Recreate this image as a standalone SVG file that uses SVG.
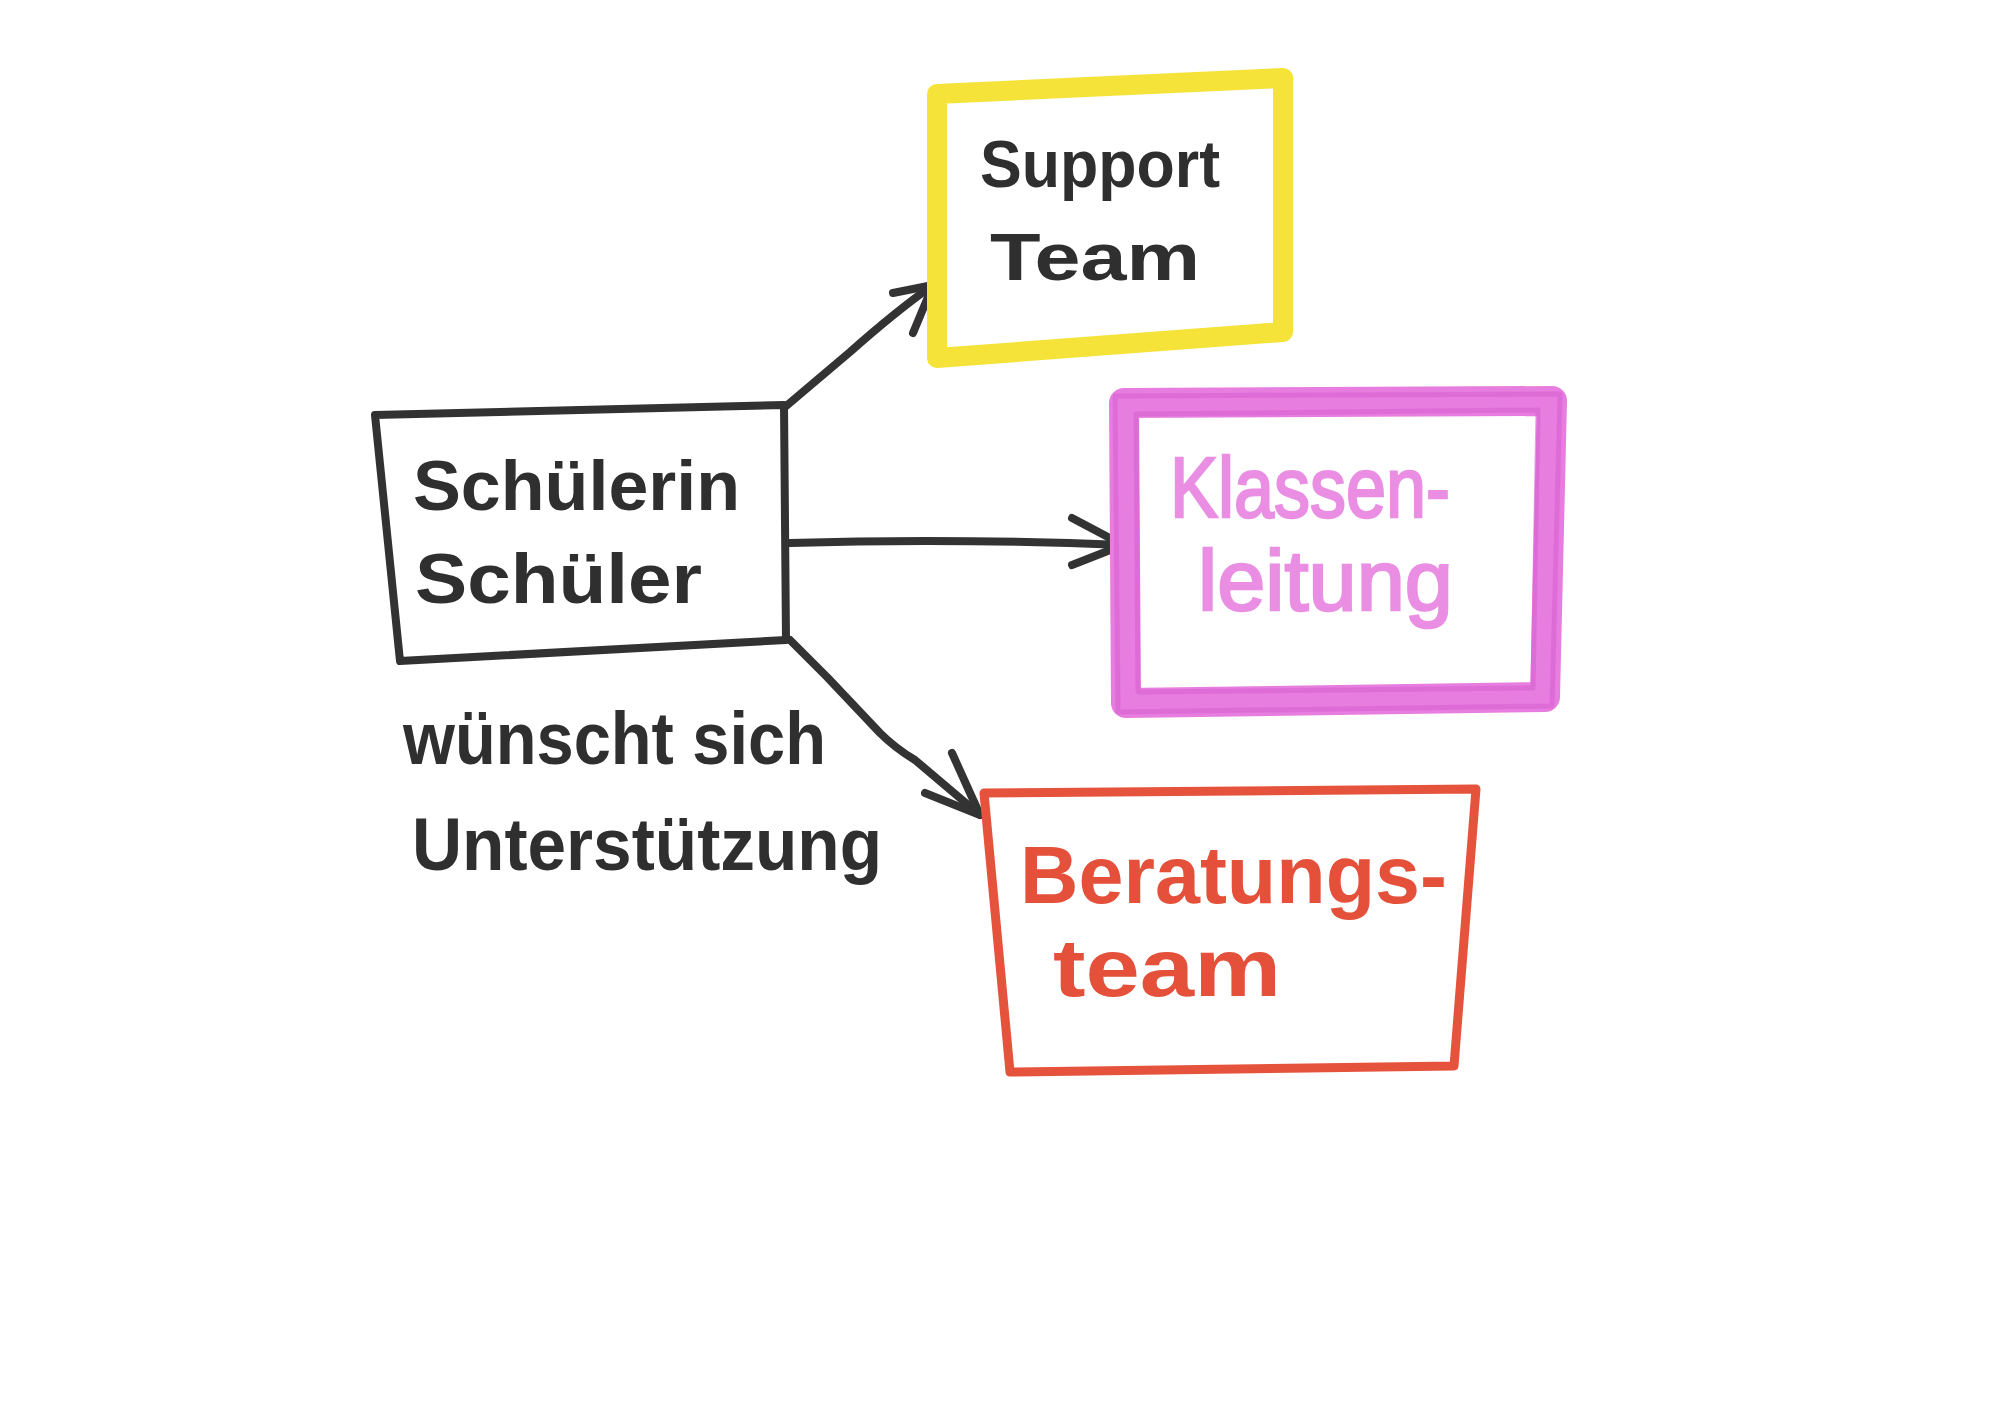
<svg xmlns="http://www.w3.org/2000/svg" width="2008" height="1408" viewBox="0 0 2008 1408">
<style>
.box{fill:none;stroke-linejoin:round;stroke-linecap:round}
.blk{stroke:#323232}
.conn{fill:none;stroke:#333333;stroke-width:8;stroke-linecap:round;stroke-linejoin:round}
.hand{font-family:"Liberation Sans","DejaVu Sans",sans-serif}
.dark{fill:#2f2f2f;font-weight:bold}
.pink{fill:#EA8EE3;stroke:#EA8EE3;stroke-width:2.5}
.red{fill:#E4503A;font-weight:bold}
</style>
<rect width="2008" height="1408" fill="#ffffff"/>
<g id="connectors">
<path class="conn" d="M785,407 L850,352 Q895,312 933,285"/>
<polyline class="conn" points="893,293 933,285 913,333"/>
<path class="conn" d="M790,543 Q950,538 1123,545"/>
<polyline class="conn" points="1072,518 1123,545 1072,565"/>
<path class="conn" d="M790,640 L827,677 Q860,712 880,733 Q895,748 915,760 L980,815"/>
<polyline class="conn" points="952,753 980,815 925,793"/>
</g>
<g id="node-schueler">
<path class="box blk" stroke-width="8" d="M375,415 L784,405 L786,640 L400,661 Z"/>
<text class="hand dark" x="413" y="510" font-size="70" textLength="327" lengthAdjust="spacingAndGlyphs">Schülerin</text>
<text class="hand dark" x="415" y="603" font-size="70" textLength="287" lengthAdjust="spacingAndGlyphs">Schüler</text>
</g>
<g id="label-wunsch">
<text class="hand dark" x="403" y="764" font-size="74" textLength="423" lengthAdjust="spacingAndGlyphs">wünscht sich</text>
<text class="hand dark" x="412" y="870" font-size="74" textLength="470" lengthAdjust="spacingAndGlyphs">Unterstützung</text>
</g>
<g id="node-support">
<path class="box" stroke="#F6E33A" stroke-width="20" d="M937,94 L1283,78 L1283,332 L937,358 Z"/>
<text class="hand dark" x="980" y="187" font-size="66" textLength="240" lengthAdjust="spacingAndGlyphs">Support</text>
<text class="hand dark" x="990" y="280" font-size="66" textLength="210" lengthAdjust="spacingAndGlyphs">Team</text>
</g>
<g id="node-klassenleitung">
<path class="box" stroke="#E67DDF" stroke-width="30" d="M1124,403 L1552,401 L1545,697 L1126,703 Z"/>
<path class="box" stroke="#D960D2" stroke-width="5" opacity="0.6" d="M1115,396 L1560,394 L1552,706 L1118,712 Z"/>
<path class="box" stroke="#D960D2" stroke-width="5" opacity="0.6" d="M1136,414 L1538,410 L1533,688 L1138,692 Z"/>
<text class="hand pink" x="1170" y="517" font-size="86" textLength="280" lengthAdjust="spacingAndGlyphs">Klassen-</text>
<text class="hand pink" x="1198" y="610" font-size="86" textLength="255" lengthAdjust="spacingAndGlyphs">leitung</text>
</g>
<g id="node-beratungsteam">
<path class="box" stroke="#E6533C" stroke-width="9" d="M984,793 L1476,789 L1454,1066 L1010,1072 Z"/>
<text class="hand red" x="1020" y="903" font-size="82" textLength="427" lengthAdjust="spacingAndGlyphs">Beratungs-</text>
<text class="hand red" x="1053" y="996" font-size="82" textLength="228" lengthAdjust="spacingAndGlyphs">team</text>
</g>
</svg>
